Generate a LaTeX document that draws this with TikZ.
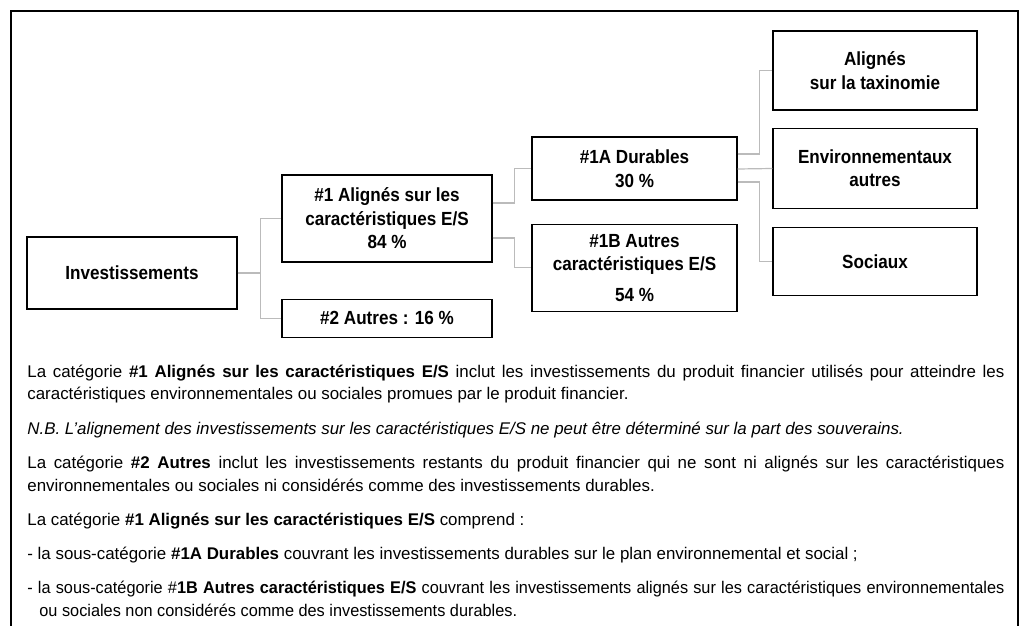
\documentclass[tikz,border=0pt]{standalone}
\usepackage{fontspec}
\setmainfont{Liberation Sans}
\newfontfamily\boxfont{Liberation Sans}[FakeStretch=0.9]
\newfontfamily\narrowfont{Liberation Sans}[FakeStretch=0.965]
\usetikzlibrary{positioning}
\definecolor{linkgray}{RGB}{187,187,187}
\tikzstyle{box} = [draw, rectangle, line width=0.6pt, align=center, inner sep=0pt, font=\boxfont\fontsize{9.5}{11.75}\selectfont\bfseries]
\tikzstyle{link} = [draw=linkgray, line width=0.6pt]
\tikzstyle{frame} = [draw, line width=0.8pt]
\tikzstyle{para} = [anchor=base west, inner sep=0pt, text width=488.5pt, align=justify, font=\fontsize{8.45}{11.5}\selectfont]

\begin{document}
\begin{tikzpicture}[x=0.5pt, y=-0.5pt]
\useasboundingbox (0,0) rectangle (1035,626);
\draw [frame] (11,626) -- (11,11) -- (1018,11) -- (1018,626);

\node [box, minimum width=105pt, minimum height=36pt] (inv) at (132,273) {Investissements};
\node [box, minimum width=105pt, minimum height=43.5pt] (one) at (387,218.5) {\#1 Alignés sur les\\caractéristiques E/S\\84 \%};
\node [box, minimum width=105pt, minimum height=19pt, below=18pt of one] (two) {\#2 Autres : 16 \%};

\node [box, minimum width=102.5pt, minimum height=31.5pt] (oneA) at (634.5,168.5) {\#1A Durables\\30 \%};
\node [box, minimum width=102.5pt, minimum height=43.5pt, below=11.5pt of oneA] (oneB) {\#1B Autres\\caractéristiques E/S\\[3.5pt]54 \%};

\node [box, minimum width=102pt, minimum height=39.5pt] (tax) at (875,70.5) {Alignés\\sur la taxinomie};
\node [box, minimum width=102pt, minimum height=40pt, below=8.5pt of tax] (env) {Environnementaux\\autres};
\node [box, minimum width=102pt, minimum height=34pt, below=9pt of env] (soc) {Sociaux};

\coordinate (split1) at ([xshift=11.5pt]inv.east);
\draw [link] (inv) -- (split1) |- (one);
\draw [link] (split1) |- (two);

\draw [link] ([yshift=7.75pt]one.east) -- ++(11pt,0) |- (oneA);
\draw [link] ([yshift=-9.75pt]one.east) -- ++(11pt,0) |- (oneB);

\draw [link] ([yshift=7.25pt]oneA.east) -- ++(11pt,0) |- (tax);
\draw [link] ([yshift=-0.25pt]oneA.east) -- (oneA.east -| env.west);
\draw [link] ([yshift=-6.75pt]oneA.east) -- ++(11pt,0) |- (soc);

\node [para] (p1) at (27,377) {La catégorie \textbf{\#1 Alignés sur les caractéristiques E/S} inclut les investissements du produit financier utilisés pour atteindre les\linebreak caractéristiques environnementales ou sociales promues par le produit financier.};
\node [para, font=\fontsize{8.45}{11.5}\selectfont\itshape] (p2) at (27,434) {N.B. L’alignement des investissements sur les caractéristiques E/S ne peut être déterminé sur la part des souverains.};
\node [para] (p3) at (27,468) {La catégorie \textbf{\#2 Autres} inclut les investissements restants du produit financier qui ne sont ni alignés sur les caractéristiques\linebreak environnementales ou sociales ni considérés comme des investissements durables.};
\node [para] (p4) at (27,525) {La catégorie \textbf{\#1 Alignés sur les caractéristiques E/S} comprend :};
\node [para] (p5) at (27,559) {- la sous-catégorie \textbf{\#1A Durables} couvrant les investissements durables sur le plan environnemental et social ;};
\node [para, font=\narrowfont\fontsize{8.45}{11.5}\selectfont] (p6) at (27,593) {\hyphenpenalty=10000\hangindent=6pt\hangafter=1 - la sous-catégorie \#\textbf{1B Autres caractéristiques E/S} couvrant les investissements alignés sur les caractéristiques environnementales\linebreak ou sociales non considérés comme des investissements durables.\par};
\end{tikzpicture}
\end{document}
